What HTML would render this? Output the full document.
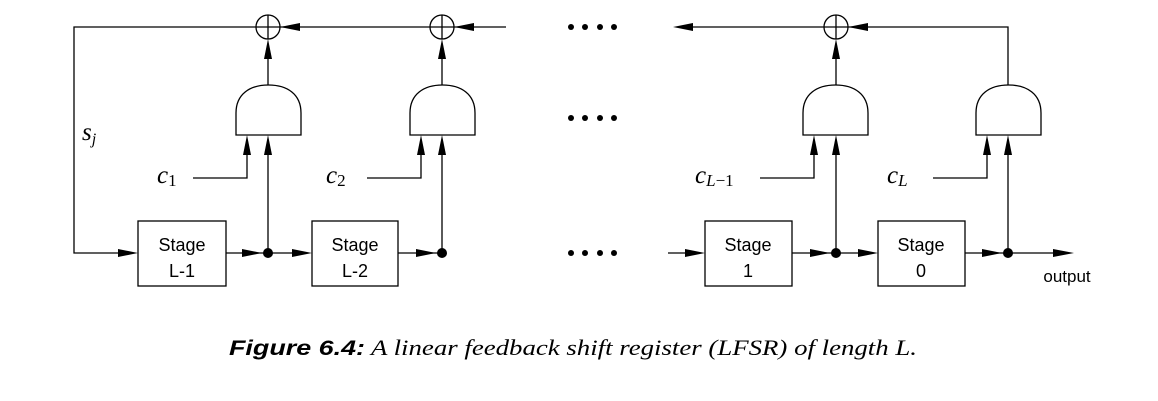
<!DOCTYPE html>
<html><head><meta charset="utf-8"><style>
html,body{margin:0;padding:0;background:#fff;}
svg{display:block;}
.sans{font-family:"Liberation Sans",Arial,sans-serif;}
.serif{font-family:"Liberation Serif","Times New Roman",serif;}
</style></head><body>
<svg width="1158" height="401" viewBox="0 0 1158 401" xmlns="http://www.w3.org/2000/svg">
<g stroke="#000" stroke-width="1.3" fill="none">
<polyline points="256,27 74,27 74,253 130,253"/>
<line x1="280" y1="27" x2="430" y2="27"/>
<line x1="454" y1="27" x2="506" y2="27"/>
<line x1="824" y1="27" x2="680" y2="27"/>
<polyline points="848,27 1008,27 1008,85"/>
<circle cx="268" cy="27" r="12"/><line x1="256" y1="27" x2="280" y2="27"/><line x1="268" y1="15" x2="268" y2="39"/>
<circle cx="442" cy="27" r="12"/><line x1="430" y1="27" x2="454" y2="27"/><line x1="442" y1="15" x2="442" y2="39"/>
<circle cx="836" cy="27" r="12"/><line x1="824" y1="27" x2="848" y2="27"/><line x1="836" y1="15" x2="836" y2="39"/>
<line x1="268" y1="85" x2="268" y2="45"/>
<line x1="442" y1="85" x2="442" y2="45"/>
<line x1="836" y1="85" x2="836" y2="45"/>
<path d="M236,135 L236,113 C236,94 250,85 268.5,85 C287,85 301,94 301,113 L301,135 Z"/>
<path d="M410,135 L410,113 C410,94 424,85 442.5,85 C461,85 475,94 475,113 L475,135 Z"/>
<path d="M803,135 L803,113 C803,94 817,85 835.5,85 C854,85 868,94 868,113 L868,135 Z"/>
<path d="M976,135 L976,113 C976,94 990,85 1008.5,85 C1027,85 1041,94 1041,113 L1041,135 Z"/>
<polyline points="193,178 247,178 247,142"/>
<polyline points="367,178 421,178 421,142"/>
<polyline points="760,178 814,178 814,142"/>
<polyline points="933,178 987,178 987,142"/>
<line x1="268" y1="253" x2="268" y2="142"/>
<line x1="442" y1="253" x2="442" y2="142"/>
<line x1="836" y1="253" x2="836" y2="142"/>
<line x1="1008" y1="253" x2="1008" y2="142"/>
<line x1="226" y1="253" x2="305" y2="253"/>
<line x1="398" y1="253" x2="442" y2="253"/>
<line x1="668" y1="253" x2="700" y2="253"/>
<line x1="792" y1="253" x2="872" y2="253"/>
<line x1="965" y1="253" x2="1068" y2="253"/>
<rect x="138" y="221" width="88" height="65"/>
<rect x="312" y="221" width="86" height="65"/>
<rect x="705" y="221" width="87" height="65"/>
<rect x="878" y="221" width="87" height="65"/>
</g>
<g fill="#000">
<polygon points="118,249 138,253 118,257"/>
<polygon points="242,249 262,253 242,257"/>
<polygon points="292,249 312,253 292,257"/>
<polygon points="416,249 436,253 416,257"/>
<polygon points="685,249 705,253 685,257"/>
<polygon points="810,249 830,253 810,257"/>
<polygon points="858,249 878,253 858,257"/>
<polygon points="982,249 1002,253 982,257"/>
<polygon points="1053,249 1074,253 1053,257"/>
<polygon points="300,23 280,27 300,31"/>
<polygon points="474,23 454,27 474,31"/>
<polygon points="868,23 848,27 868,31"/>
<polygon points="693,23 673,27 693,31"/>
<polygon points="264,59 268,39 272,59"/>
<polygon points="438,59 442,39 446,59"/>
<polygon points="832,59 836,39 840,59"/>
<polygon points="243,155 247,135 251,155"/><polygon points="264,155 268,135 272,155"/>
<polygon points="417,155 421,135 425,155"/><polygon points="438,155 442,135 446,155"/>
<polygon points="810,155 814,135 818,155"/><polygon points="832,155 836,135 840,155"/>
<polygon points="983,155 987,135 991,155"/><polygon points="1004,155 1008,135 1012,155"/>
<circle cx="268" cy="253" r="5"/><circle cx="442" cy="253" r="5"/>
<circle cx="836" cy="253" r="5"/><circle cx="1008" cy="253" r="5"/>
<circle cx="571" cy="27" r="3"/><circle cx="585" cy="27" r="3"/><circle cx="600" cy="27" r="3"/><circle cx="614" cy="27" r="3"/>
<circle cx="571" cy="118" r="3"/><circle cx="585" cy="118" r="3"/><circle cx="600" cy="118" r="3"/><circle cx="614" cy="118" r="3"/>
<circle cx="571" cy="253" r="3"/><circle cx="585" cy="253" r="3"/><circle cx="600" cy="253" r="3"/><circle cx="614" cy="253" r="3"/>
</g>
<g class="sans" font-size="18" fill="#000" text-anchor="middle">
<text x="182" y="251">Stage</text><text x="182" y="277">L-1</text>
<text x="355" y="251">Stage</text><text x="355" y="277">L-2</text>
<text x="748" y="251">Stage</text><text x="748" y="277">1</text>
<text x="921" y="251">Stage</text><text x="921" y="277">0</text>
<text x="1067" y="282" font-size="17">output</text>
</g>
<g class="serif" font-style="italic" font-size="25" fill="#000">
<text x="82" y="140">s<tspan font-size="16" dy="4">j</tspan></text>
<text x="157" y="183">c<tspan font-size="17" font-style="normal" dy="3">1</tspan></text>
<text x="326" y="183">c<tspan font-size="17" font-style="normal" dy="3">2</tspan></text>
<text x="695" y="183">c<tspan font-size="17" dy="3">L</tspan><tspan font-size="17" font-style="normal">−1</tspan></text>
<text x="887" y="183">c<tspan font-size="17" dy="3">L</tspan></text>
</g>
<text x="229" y="355" class="sans" font-weight="bold" font-style="italic" font-size="21" textLength="136" lengthAdjust="spacingAndGlyphs">Figure 6.4:</text>
<text x="371" y="355" class="serif" font-style="italic" font-size="22" textLength="546" lengthAdjust="spacingAndGlyphs">A linear feedback shift register (LFSR) of length L.</text>
</svg>
</body></html>
